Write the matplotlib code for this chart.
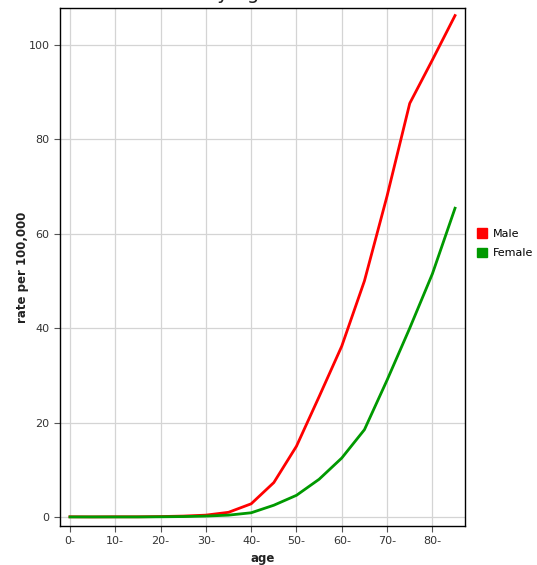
import matplotlib
matplotlib.use("Agg")
import matplotlib.pyplot as plt
from matplotlib.patches import Patch

ages = [0, 5, 10, 15, 20, 25, 30, 35, 40, 45, 50, 55, 60, 65, 70, 75, 80, 85]
male = [0.05, 0.03, 0.05, 0.05, 0.1, 0.2, 0.4, 1.0, 2.8, 7.3, 15.0, 25.5, 36.2, 50.0, 68.0, 87.6, 96.8, 106.2]
female = [0.02, 0.02, 0.02, 0.02, 0.05, 0.1, 0.2, 0.4, 0.9, 2.5, 4.6, 8.0, 12.5, 18.5, 29.0, 40.0, 51.5, 65.4]
xticks = [0, 10, 20, 30, 40, 50, 60, 70, 80]
xticklabels = ["0-", "10-", "20-", "30-", "40-", "50-", "60-", "70-", "80-"]
yticks = [0, 20, 40, 60, 80, 100]

fig = plt.figure(figsize=(5.37, 5.65), dpi=100)
ax = fig.add_axes([60/537, 39/565, 405/537, 518/565])
ax.plot(ages, male, color="#ff0000", lw=2.0, solid_joinstyle="round")
ax.plot(ages, female, color="#009900", lw=2.0, solid_joinstyle="round")
ax.set_xlim(-2.2, 87.2)
ax.set_ylim(-1.9, 107.8)
ax.set_xticks(xticks)
ax.set_xticklabels(xticklabels)
ax.set_yticks(yticks)
ax.grid(True, color="#d4d4d4", lw=0.9)
ax.set_axisbelow(True)
for s in ax.spines.values():
    s.set_color("black")
    s.set_linewidth(1.0)
ax.tick_params(axis="both", labelsize=8, colors="#555555", labelcolor="#333333", length=4, width=0.8)
ax.set_xlabel("age", fontsize=8.5, fontweight="bold", color="#222222", labelpad=4)
ax.set_ylabel("rate per 100,000", fontsize=8.5, fontweight="bold", color="#222222", labelpad=0)

handles = [Patch(facecolor="#ff0000", edgecolor="#ff0000", label="Male"),
           Patch(facecolor="#009900", edgecolor="#009900", label="Female")]
fig.legend(handles=handles, loc="upper left", bbox_to_anchor=(473/537, 1 - 224/565),
           frameon=False, fontsize=8, handlelength=0.9, handleheight=0.9,
           handletextpad=0.5, labelspacing=0.8, borderaxespad=0)

fig.text(154/537, 1 + 1/565, "Rate by age", fontsize=14, ha="left", va="baseline", color="#222222")

fig.savefig("out.png", dpi=100, facecolor="white")
